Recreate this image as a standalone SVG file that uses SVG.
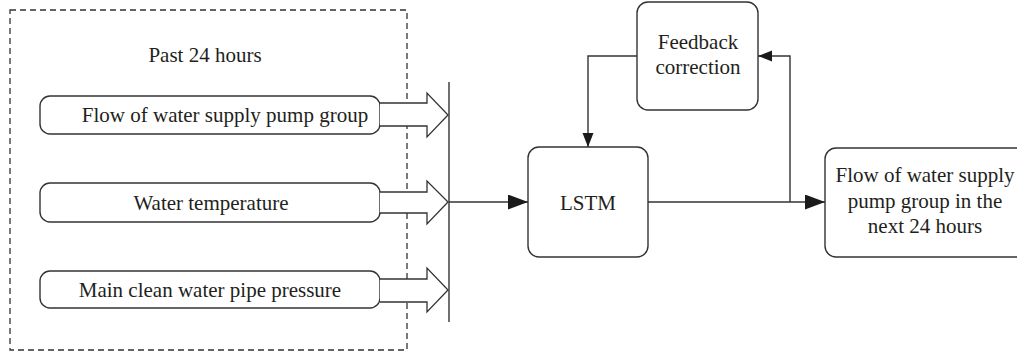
<svg xmlns="http://www.w3.org/2000/svg" width="1017" height="358" viewBox="0 0 1017 358">
  <style>
    .box { fill: #ffffff; stroke: #333333; stroke-width: 1.4; }
    .frame { fill: none; stroke: #333333; stroke-width: 1.3; stroke-dasharray: 6 4; }
    .line { fill: none; stroke: #333333; stroke-width: 1.4; }
    .block { fill: #ffffff; stroke: #333333; stroke-width: 1.3; stroke-linejoin: miter; }
    .lbl { font-family: "Liberation Serif", "Times New Roman", serif; font-size: 21px; fill: #231f20; text-anchor: middle; }
  </style>
  <defs>
    <marker id="bigArrow" markerUnits="userSpaceOnUse" markerWidth="21" markerHeight="16" refX="20" refY="7.5" orient="auto">
      <path d="M0,0 L20,7.5 L0,15 Z" fill="#1a1a1a"/>
    </marker>
    <marker id="smallArrow" markerUnits="userSpaceOnUse" markerWidth="15" markerHeight="12" refX="14" refY="5.5" orient="auto">
      <path d="M0,0 L14,5.5 L0,11 Z" fill="#1a1a1a"/>
    </marker>
  </defs>

  <!-- dashed frame around the historical inputs -->
  <g id="past-window">
    <rect class="frame" x="10" y="10" width="397" height="340"/>
    <text class="lbl" x="205" y="62">Past 24 hours</text>
  </g>

  <g id="input-flow">
    <rect class="box" x="40" y="96" width="340" height="38" rx="10" ry="10"/>
    <text class="lbl" x="225" y="122">Flow of water supply pump group</text>
  </g>

  <g id="input-temperature">
    <rect class="box" x="40" y="183" width="340" height="39" rx="10" ry="10"/>
    <text class="lbl" x="211" y="210">Water temperature</text>
  </g>

  <g id="input-pressure">
    <rect class="box" x="40" y="271" width="340" height="37" rx="10" ry="10"/>
    <text class="lbl" x="210" y="297">Main clean water pipe pressure</text>
  </g>

  <g id="lstm">
    <rect class="box" x="528" y="147" width="120" height="110" rx="11" ry="11"/>
    <text class="lbl" x="588" y="210">LSTM</text>
  </g>

  <g id="feedback">
    <rect class="box" x="637" y="2" width="121" height="108" rx="11" ry="11"/>
    <text class="lbl" x="698" y="49">Feedback</text>
    <text class="lbl" x="698" y="74">correction</text>
  </g>

  <g id="output">
    <rect class="box" x="825" y="148" width="230" height="109" rx="11" ry="11"/>
    <text class="lbl" x="925" y="182">Flow of water supply</text>
    <text class="lbl" x="925" y="208">pump group in the</text>
    <text class="lbl" x="925" y="233">next 24 hours</text>
  </g>

  <g id="connectors">
    <!-- hollow block arrows feeding the collector bar -->
    <path class="block" d="M380,103 H427 V93 L448,115 L427,137 V126 H380"/>
    <path class="block" d="M380,192 H427 V181 L448,202 L427,224 V213 H380"/>
    <path class="block" d="M380,279 H427 V268 L448,290 L427,312 V302 H380"/>
    <!-- collector bar -->
    <line class="line" x1="449" y1="82" x2="449" y2="322"/>
    <!-- collector to LSTM -->
    <line class="line" x1="449" y1="202" x2="528" y2="202" marker-end="url(#bigArrow)"/>
    <!-- LSTM to output -->
    <line class="line" x1="648" y1="202" x2="825" y2="202" marker-end="url(#bigArrow)"/>
    <!-- output fed back into the correction block -->
    <polyline class="line" points="790,202 790,56 758,56" marker-end="url(#smallArrow)"/>
    <!-- correction back into LSTM -->
    <polyline class="line" points="637,56 588,56 588,147" marker-end="url(#smallArrow)"/>
  </g>
</svg>
